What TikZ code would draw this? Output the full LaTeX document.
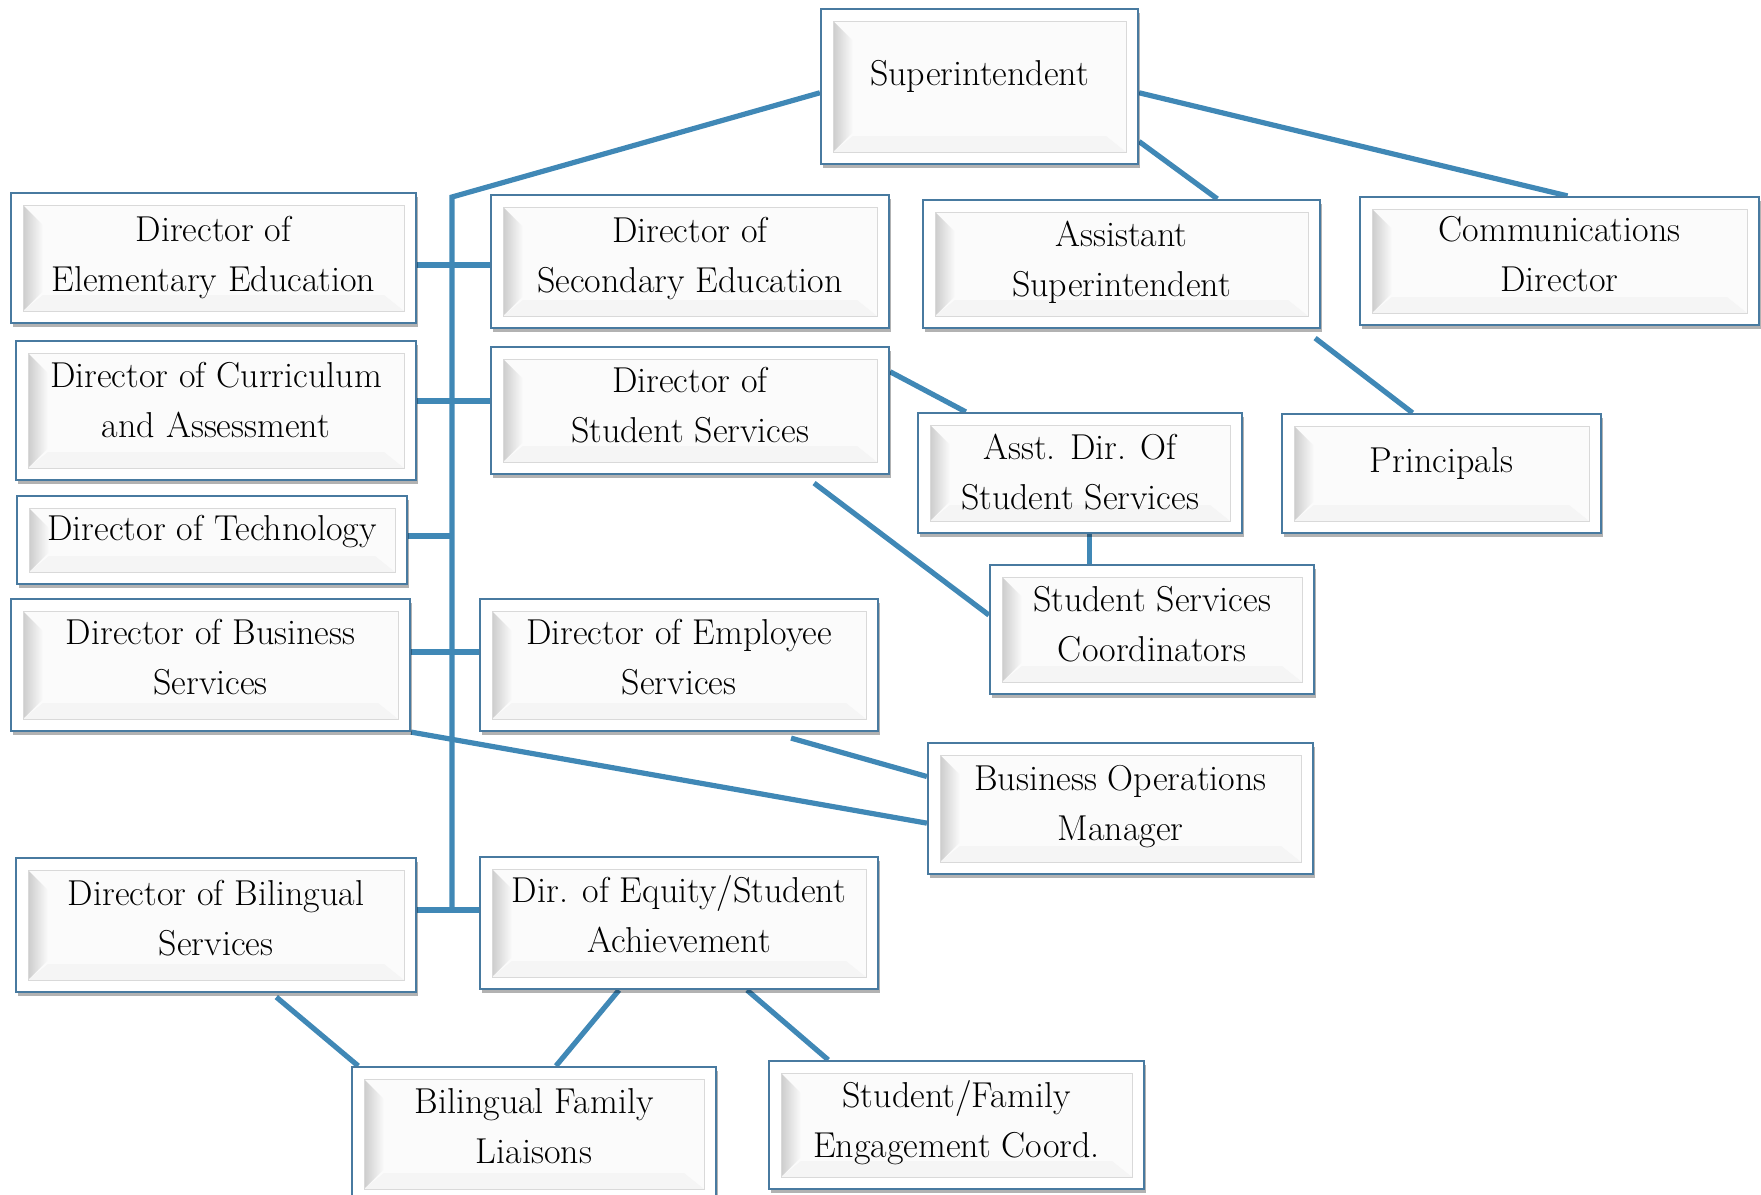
\documentclass[tikz,border=0pt]{standalone}
\usepackage{fontspec}
\usepackage{tikz}
\usetikzlibrary{calc,shadows,backgrounds}
\definecolor{linkblue}{RGB}{64,136,182}
\definecolor{boxedge}{RGB}{72,122,160}
\newcommand\orgtext[2]{\raisebox{#1}[\height][\depth]{\begin{tabular}{@{}c@{}}#2\end{tabular}}}
\tikzset{
  orgbox/.style={draw=boxedge,line width=1.1pt,fill=white,inner sep=0pt,
    font=\fontsize{18}{25}\selectfont,
    drop shadow={shadow xshift=1.2pt,shadow yshift=-2pt,opacity=.3,fill=black},
    path picture={
      \fill[gray!3] ([shift={(6pt,-6pt)}]path picture bounding box.north west) rectangle ([shift={(-6pt,6pt)}]path picture bounding box.south east);
      \shade[left color=gray!40,right color=gray!3] ([shift={(6pt,-6pt)}]path picture bounding box.north west) -- ([shift={(6pt,6pt)}]path picture bounding box.south west) -- ([shift={(16pt,16pt)}]path picture bounding box.south west) -- ([shift={(16pt,-16pt)}]path picture bounding box.north west) -- cycle;
      \fill[gray!8] ([shift={(6pt,6pt)}]path picture bounding box.south west) -- ([shift={(-6pt,6pt)}]path picture bounding box.south east) -- ([shift={(-16pt,14pt)}]path picture bounding box.south east) -- ([shift={(16pt,14pt)}]path picture bounding box.south west) -- cycle;
      \draw[gray!30,line width=.4pt] ([shift={(6pt,-6pt)}]path picture bounding box.north west) rectangle ([shift={(-6pt,6pt)}]path picture bounding box.south east);
    }},
  link/.style={draw=linkblue,line width=2.6pt},
}
\begin{document}
\begin{tikzpicture}[x=.5pt,y=-.5pt]
\useasboundingbox (0,0) rectangle (1761,1194);
\node (sup) at (979.5,86.5) [orgbox,minimum width=158.5pt,minimum height=77.5pt] {\orgtext{5.3pt}{Superintendent}};
\node (elem) at (213.5,258) [orgbox,minimum width=202.5pt,minimum height=65pt] {\orgtext{0.6pt}{Director of\\Elementary Education}};
\node (sec) at (690,261.5) [orgbox,minimum width=199pt,minimum height=66.5pt] {\orgtext{2pt}{Director of\\Secondary Education}};
\node (asup) at (1121.5,264) [orgbox,minimum width=198.5pt,minimum height=64pt] {\orgtext{1.1pt}{Assistant\\Superintendent}};
\node (comm) at (1559.5,261) [orgbox,minimum width=199.5pt,minimum height=64pt] {\orgtext{2.2pt}{Communications\\Director}};
\node (curr) at (216,410.5) [orgbox,minimum width=200pt,minimum height=69.5pt] {\orgtext{4pt}{Director of Curriculum\\and Assessment}};
\node (stud) at (690,410.5) [orgbox,minimum width=199pt,minimum height=63.5pt] {\orgtext{1.6pt}{Director of\\Student Services}};
\node (astud) at (1080,473) [orgbox,minimum width=162pt,minimum height=60pt] {\orgtext{-0.5pt}{Asst. Dir. Of\\Student Services}};
\node (prin) at (1441.5,473.5) [orgbox,minimum width=159.5pt,minimum height=59.5pt] {\orgtext{5.3pt}{Principals}};
\node (tech) at (212,540) [orgbox,minimum width=195pt,minimum height=44pt] {\orgtext{5pt}{Director of Technology}};
\node (coord) at (1152,629.5) [orgbox,minimum width=162pt,minimum height=64.5pt] {\orgtext{1.6pt}{Student Services\\Coordinators}};
\node (bus) at (210.5,665) [orgbox,minimum width=199.5pt,minimum height=66pt] {\orgtext{3pt}{Director of Business\\Services}};
\node (emp) at (679,665) [orgbox,minimum width=199pt,minimum height=66pt] {\orgtext{2.6pt}{Director of Employee\\Services}};
\node (bom) at (1120.5,808.5) [orgbox,minimum width=192.5pt,minimum height=65.5pt] {\orgtext{1.4pt}{Business Operations\\Manager}};
\node (bil) at (216,925) [orgbox,minimum width=200pt,minimum height=67pt] {\orgtext{2.3pt}{Director of Bilingual\\Services}};
\node (eq) at (679,923) [orgbox,minimum width=199pt,minimum height=66pt] {\orgtext{2.6pt}{Dir. of Equity/Student\\Achievement}};
\node (bfl) at (534,1134) [orgbox,minimum width=182pt,minimum height=67pt] {\orgtext{2.6pt}{Bilingual Family\\Liaisons}};
\node (sfam) at (956.5,1125) [orgbox,minimum width=187.5pt,minimum height=64pt] {\orgtext{1.1pt}{Student/Family\\Engagement Coord.}};
\coordinate (ttop) at (452,197);
\coordinate (tbot) at (452,910);
\begin{scope}[on background layer]
\draw[link] ($(sup.north west)!.54!(sup.south west)$) -- (ttop) -- (tbot);
\draw[link] (elem.east |- 0,265) -- (sec.west |- 0,265);
\draw[link] (curr.east |- 0,401) -- (stud.west |- 0,401);
\draw[link] (tech.east |- 0,536) -- (ttop |- 0,536);
\draw[link] (bus.east |- 0,652) -- (emp.west |- 0,652);
\draw[link] (bil.east |- 0,910) -- (eq.west |- 0,910);
\draw[link] ($(sup.north east)!.54!(sup.south east)$) -- ($(comm.north west)!.52!(comm.north east)$);
\draw[link] ($(sup.north east)!.85!(sup.south east)$) -- ($(asup.north west)!.74!(asup.north east)$);
\draw[link] ($(asup.south east)+(-6,9)$) -- ($(prin.north west)!.41!(prin.north east)$);
\draw[link] ($(stud.north east)!.2!(stud.south east)$) -- ($(astud.north west)!.15!(astud.north east)$);
\draw[link] ($(astud.south west)!.53!(astud.south east)$) coordinate (aj) -- (aj |- coord.north);
\draw[link] ($(stud.south west)!.81!(stud.south east)+(0,8)$) -- ($(coord.north west)!.39!(coord.south west)$);
\draw[link] (bus.south east) -- ($(bom.north west)!.61!(bom.south west)$);
\draw[link] ($(emp.south west)!.78!(emp.south east)+(0,6)$) -- ($(bom.north west)!.26!(bom.south west)$);
\draw[link] ($(bil.south west)!.65!(bil.south east)+(0,4)$) -- ($(bfl.north west)!.02!(bfl.north east)$);
\draw[link] ($(eq.south west)!.35!(eq.south east)$) -- ($(bfl.north west)!.56!(bfl.north east)$);
\draw[link] ($(eq.south west)!.67!(eq.south east)$) -- ($(sfam.north west)!.16!(sfam.north east)$);
\end{scope}
\end{tikzpicture}
\end{document}
